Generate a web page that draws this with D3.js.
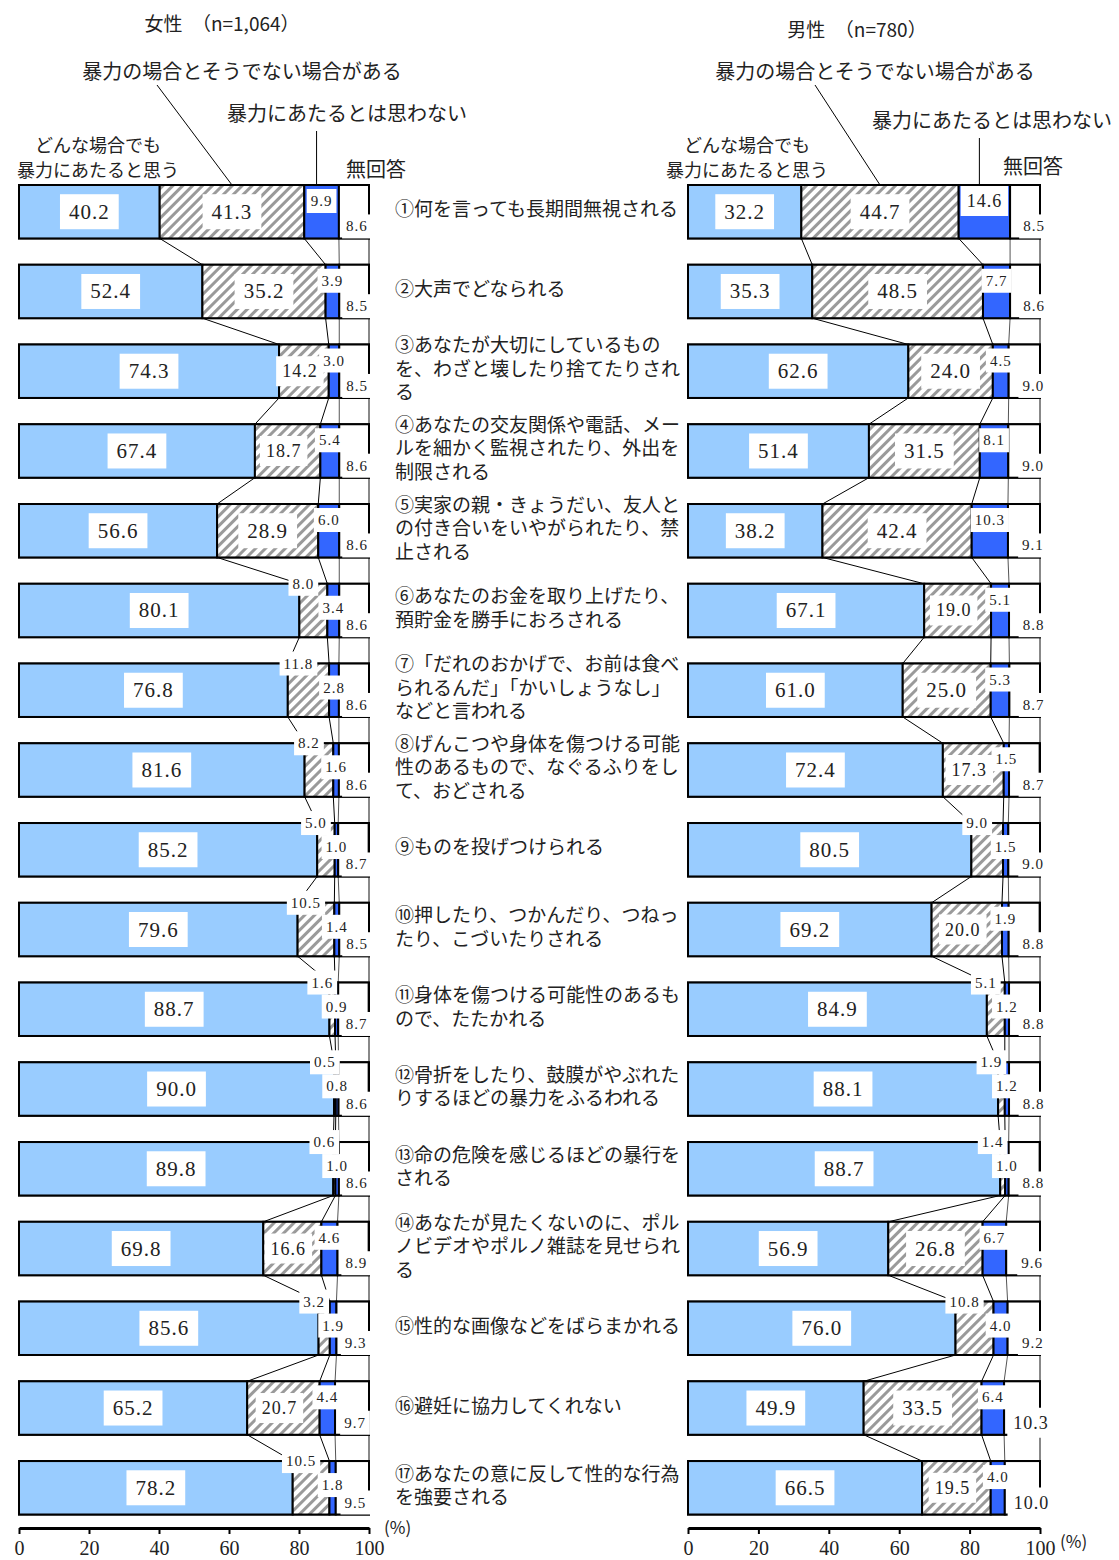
<!DOCTYPE html>
<html>
<head>
<meta charset="utf-8">
<script src="https://cdn.jsdelivr.net/npm/d3@7"></script>
<style>
body { margin: 0; background: #fff; }
text { fill: #222; }
.jp { font-family: "Noto Sans CJK JP", sans-serif; }
.item { font-family: "Liberation Serif", "Noto Sans CJK JP", serif; }
.num { font-family: "Liberation Serif", "DejaVu Serif", serif; letter-spacing: 1px; }
</style>
</head>
<body>
<div id="chart"></div>
<script>
// items (row labels, already wrapped like the original)
var items = [
    ["①何を言っても長期間無視される"],
    ["②大声でどなられる"],
    ["③あなたが大切にしているもの", "を、わざと壊したり捨てたりされ", "る"],
    ["④あなたの交友関係や電話、メー", "ルを細かく監視されたり、外出を", "制限される"],
    ["⑤実家の親・きょうだい、友人と", "の付き合いをいやがられたり、禁", "止される"],
    ["⑥あなたのお金を取り上げたり、", "預貯金を勝手におろされる"],
    ["⑦「だれのおかげで、お前は食べ", "られるんだ」「かいしょうなし」", "などと言われる"],
    ["⑧げんこつや身体を傷つける可能", "性のあるもので、なぐるふりをし", "て、おどされる"],
    ["⑨ものを投げつけられる"],
    ["⑩押したり、つかんだり、つねっ", "たり、こづいたりされる"],
    ["⑪身体を傷つける可能性のあるも", "ので、たたかれる"],
    ["⑫骨折をしたり、鼓膜がやぶれた", "りするほどの暴力をふるわれる"],
    ["⑬命の危険を感じるほどの暴行を", "される"],
    ["⑭あなたが見たくないのに、ポル", "ノビデオやポルノ雑誌を見せられ", "る"],
    ["⑮性的な画像などをばらまかれる"],
    ["⑯避妊に協力してくれない"],
    ["⑰あなたの意に反して性的な行為", "を強要される"]
];

var seriesNames = ["どんな場合でも暴力にあたると思う", "暴力の場合とそうでない場合がある", "暴力にあたるとは思わない", "無回答"];

// 女性 (n=1,064)
var femaleAlways  = [40.2, 52.4, 74.3, 67.4, 56.6, 80.1, 76.8, 81.6, 85.2, 79.6, 88.7, 90.0, 89.8, 69.8, 85.6, 65.2, 78.2];
var femaleDepends = [41.3, 35.2, 14.2, 18.7, 28.9,  8.0, 11.8,  8.2,  5.0, 10.5,  1.6,  0.5,  0.6, 16.6,  3.2, 20.7, 10.5];
var femaleNot     = [ 9.9,  3.9,  3.0,  5.4,  6.0,  3.4,  2.8,  1.6,  1.0,  1.4,  0.9,  0.8,  1.0,  4.6,  1.9,  4.4,  1.8];
var femaleNA      = [ 8.6,  8.5,  8.5,  8.6,  8.6,  8.6,  8.6,  8.6,  8.7,  8.5,  8.7,  8.6,  8.6,  8.9,  9.3,  9.7,  9.5];

// 男性 (n=780)
var maleAlways  = [32.2, 35.3, 62.6, 51.4, 38.2, 67.1, 61.0, 72.4, 80.5, 69.2, 84.9, 88.1, 88.7, 56.9, 76.0, 49.9, 66.5];
var maleDepends = [44.7, 48.5, 24.0, 31.5, 42.4, 19.0, 25.0, 17.3,  9.0, 20.0,  5.1,  1.9,  1.4, 26.8, 10.8, 33.5, 19.5];
var maleNot     = [14.6,  7.7,  4.5,  8.1, 10.3,  5.1,  5.3,  1.5,  1.5,  1.9,  1.2,  1.2,  1.0,  6.7,  4.0,  6.4,  4.0];
var maleNA      = [ 8.5,  8.6,  9.0,  9.0,  9.1,  8.8,  8.7,  8.7,  9.0,  8.8,  8.8,  8.8,  8.8,  9.6,  9.2, 10.3, 10.0];

var tickValues = [0, 20, 40, 60, 80, 100];

var svgWidth = 1119;
var svgHeight = 1560;
var colors = ["#99CCFF", "url(#hatch)", "#3366FF", "#ffffff"];

var svg = d3.select("#chart")
            .append("svg")
            .attr("width", svgWidth)
            .attr("height", svgHeight);

var pat = svg.append("defs").append("pattern")
            .attr("id", "hatch")
            .attr("patternUnits", "userSpaceOnUse")
            .attr("width", 7)
            .attr("height", 7)
            .attr("patternTransform", "rotate(45)");
pat.append("rect").attr("width", 7).attr("height", 7).attr("fill", "#fff");
pat.append("rect").attr("width", 3).attr("height", 7).attr("fill", "#9a9a9a");

var yScale = d3.scaleBand()
                .domain(d3.range(items.length))
                .range([185, 1514.5])
                .paddingInner(0.33);
var bh = yScale.bandwidth();

function fmt(v) { return d3.format(".1f")(v); }

// value label: box goes in boxG, text in textG (so no box hides a number)
function label(p, v, cx, cy, size) {
    var padX = size >= 20 ? 9 : (size >= 17 ? 6 : 4);
    var boxH = size >= 20 ? 35 : (size >= 17 ? 30 : 24);
    var r = p.boxG.append("rect").attr("fill", "#fff");
    var t = p.textG.append("text")
            .attr("class", "num")
            .attr("x", cx)
            .attr("y", cy)
            .attr("text-anchor", "middle")
            .attr("dominant-baseline", "central")
            .style("font-size", size + "px")
            .text(fmt(v));
    var w = t.node().getComputedTextLength();
    r.attr("x", cx - w / 2 - padX).attr("y", cy - boxH / 2)
     .attr("width", w + 2 * padX).attr("height", boxH);
}

function drawPanel(p) {
    var xScale = d3.scaleLinear().domain([0, 100]).range([p.x0, p.x100]);
    var g = svg.append("g");

    var rows = p.series[0].map(function(d, i) {
        var vals = p.series.map(function(s) { return s[i]; });
        var cum = [0];
        vals.forEach(function(v, k) { cum.push(cum[k] + v); });
        return { i: i, vals: vals, cum: cum };
    });

    // gray line at 100 through the whole panel
    g.append("line")
        .attr("x1", xScale(100)).attr("x2", xScale(100))
        .attr("y1", yScale(0)).attr("y2", yScale(items.length - 1) + bh)
        .attr("stroke", "#888").attr("stroke-width", 2);

    // connector lines between bars
    for (var i = 0; i < rows.length - 1; i++) {
        [1, 2, 3].forEach(function(k) {
            g.append("line")
                .attr("x1", xScale(rows[i].cum[k])).attr("y1", yScale(i) + bh)
                .attr("x2", xScale(rows[i + 1].cum[k])).attr("y2", yScale(i + 1))
                .attr("stroke", k === 3 ? "#555" : "#000").attr("stroke-width", 1);
        });
    }

    // bars
    rows.forEach(function(r) {
        var top = yScale(r.i);
        g.append("rect")
            .attr("x", xScale(0)).attr("y", top)
            .attr("width", xScale(100) - xScale(0)).attr("height", bh)
            .attr("fill", "#fff").attr("stroke", "#000").attr("stroke-width", 2);
        r.vals.forEach(function(v, k) {
            var x1 = xScale(Math.min(r.cum[k], 100));
            var x2 = xScale(Math.min(r.cum[k + 1], 100));
            g.append("rect")
                .attr("x", x1).attr("y", top)
                .attr("width", x2 - x1).attr("height", bh)
                .attr("fill", colors[k]).attr("stroke", "#000").attr("stroke-width", 2);
        });
    });

    // value labels
    p.boxG = g.append("g");
    p.textG = g.append("g");
    rows.forEach(function(r) {
        var top = yScale(r.i), mid = top + bh / 2;
        var v = r.vals, c = r.cum;
        label(p, v[0], xScale(v[0] / 2), mid, 21);
        if (v[1] >= 24) {
            label(p, v[1], xScale(c[1] + v[1] / 2), mid, 21);
        } else if (v[1] >= 14) {
            label(p, v[1], xScale(c[1] + v[1] / 2) - 4, mid, 18);
        } else {
            label(p, v[1], xScale(c[1] + v[1] / 2) - 10, top, 15);
        }
        var y3 = v[1] < 14 ? top + 24 : top + 16;
        label(p, v[2], xScale(c[2] + v[2] / 2), y3, v[2] >= 14 ? 18 : 15);
        label(p, v[3], (xScale(c[3]) + xScale(100)) / 2 + p.naShift, top + bh - 12, v[3] >= 10 ? 18 : 15);
    });

    // axis
    var xAxis = d3.axisBottom(xScale)
                .tickValues(tickValues)
                .tickSizeInner(6)
                .tickSizeOuter(0)
                .tickPadding(7);
    var ax = g.append("g")
                .attr("transform", "translate(0, 1528)")
                .call(xAxis);
    ax.select(".domain").attr("stroke", "#000").attr("stroke-width", 3);
    ax.selectAll(".tick line").attr("stroke", "#000").attr("stroke-width", 2);
    ax.selectAll(".tick text")
        .attr("fill", "#222")
        .style("font-family", "'Liberation Serif', serif")
        .style("font-size", "20px");
    g.append("text").attr("class", "jp")
        .attr("x", p.pctX).attr("y", p.pctY)
        .attr("dominant-baseline", "central")
        .style("font-size", "17px").text("(%)");

    // title and legend labels
    function jp(txt, x, y, size) {
        g.append("text").attr("class", "jp")
            .attr("x", x).attr("y", y)
            .attr("text-anchor", "middle")
            .attr("dominant-baseline", "central")
            .style("font-size", size + "px")
            .text(txt);
    }
    jp(p.title, p.titleX, p.titleY, 19);
    jp(seriesNames[1], p.depX, 70, 20);
    jp(seriesNames[2], p.notX, p.notY, 20);
    jp("どんな場合でも", p.alwaysX, 144, 18);
    jp("暴力にあたると思う", p.alwaysX, 169, 18);
    jp(seriesNames[3], p.naX, p.naY, 20);

    var r0 = rows[0];
    g.append("line")
        .attr("x1", p.depLineX).attr("y1", 85)
        .attr("x2", xScale(r0.cum[1] + r0.vals[1] / 2)).attr("y2", yScale(0))
        .attr("stroke", "#000").attr("stroke-width", 1);
    g.append("line")
        .attr("x1", xScale(r0.cum[2] + r0.vals[2] / 2) - 5).attr("y1", p.notY + 19)
        .attr("x2", xScale(r0.cum[2] + r0.vals[2] / 2) - 5).attr("y2", yScale(0))
        .attr("stroke", "#000").attr("stroke-width", 1);
}

drawPanel({
    x0: 19, x100: 369,
    series: [femaleAlways, femaleDepends, femaleNot, femaleNA],
    naShift: 3,
    title: "女性　（n=1,064）", titleX: 222, titleY: 22,
    depX: 242, depLineX: 157,
    notX: 347, notY: 112,
    alwaysX: 98,
    naX: 376, naY: 168,
    pctX: 384, pctY: 1526
});

drawPanel({
    x0: 688, x100: 1040,
    series: [maleAlways, maleDepends, maleNot, maleNA],
    naShift: 9,
    title: "男性　（n=780）", titleX: 857, titleY: 28,
    depX: 875, depLineX: 815,
    notX: 992, notY: 119,
    alwaysX: 747,
    naX: 1033, naY: 165,
    pctX: 1060, pctY: 1540
});

// item labels in the middle column, one line per text
var itemG = svg.append("g");
items.forEach(function(lines, i) {
    var cy = yScale(i) + bh / 2 - 2;
    var y0 = cy - (lines.length - 1) / 2 * 23.5;
    lines.forEach(function(line, j) {
        itemG.append("text").attr("class", "item")
            .attr("x", 395).attr("y", y0 + j * 23.5)
            .attr("dominant-baseline", "central")
            .style("font-size", "19px")
            .text(line);
    });
});
</script>
</body>
</html>
